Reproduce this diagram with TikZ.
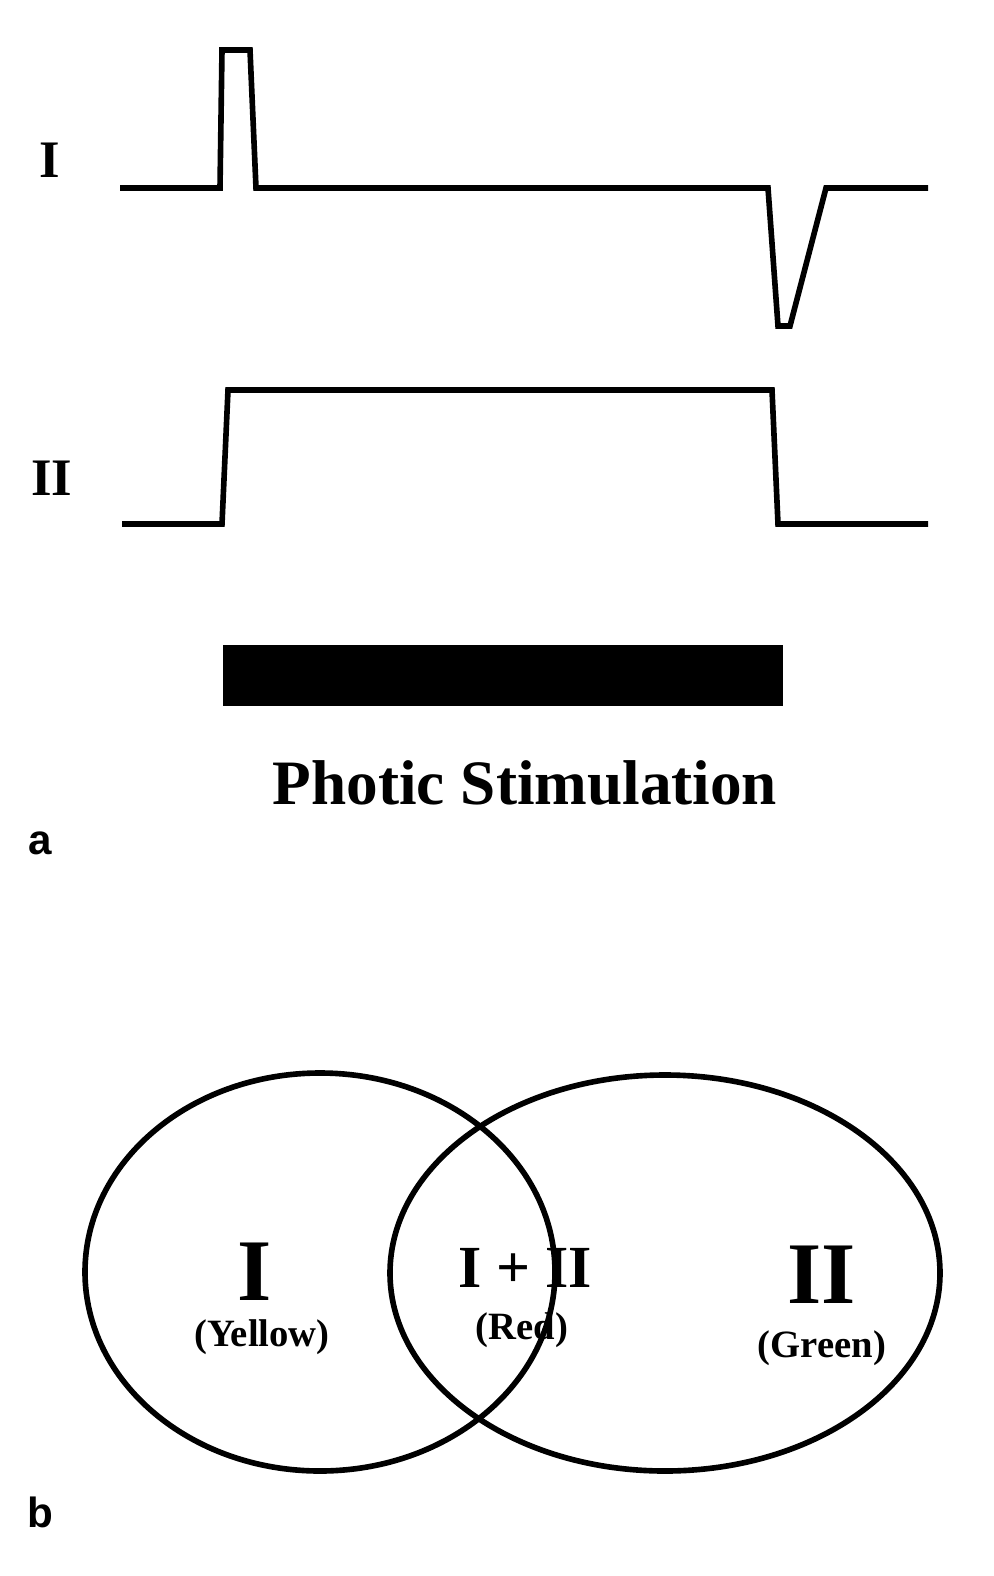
\documentclass[tikz,border=0pt]{standalone}
\usepackage{fontspec}
\setmainfont{Liberation Serif}
\setsansfont{Liberation Sans}
\usetikzlibrary{positioning}
\begin{document}
\begin{tikzpicture}[x=0.02cm, y=-0.02cm,
        wave/.style={line width=3.2pt, line join=miter},
        lbl/.style={font=\bfseries\fontsize{30}{32}\selectfont},
        tag/.style={font=\sffamily\bfseries\fontsize{24}{26}\selectfont},
        sub/.style={font=\bfseries\fontsize{22}{24}\selectfont}
    ]
        \useasboundingbox (0,0) rectangle (994,1576);
        % Traces
        \node[lbl] (lI) at (50,160) {I};
        \node[lbl] (lII) at (52,478) {II};
        \draw[wave] (120,188) -- (220,188) -- (222,50) -- (250,50) -- (256,188)
            -- (768,188) -- (778,326) -- (790,326) -- (826,188) -- (928,188);
        \draw[wave] (122,524) -- (222,524) -- (228,390) -- (772,390) -- (778,524) -- (928,524);

        % Stimulus
        \fill (223,645) rectangle (783,706);
        \node[font=\bfseries\fontsize{36}{38}\selectfont] (stim) at (525,783) {Photic Stimulation};
        \node[tag] (a) at (40,843) {a};

        % Overlap diagram
        \draw[wave] (320,1272) ellipse [x radius=235, y radius=199];
        \draw[wave] (665,1273) ellipse [x radius=275, y radius=198];
        \node[font=\bfseries\fontsize{50}{52}\selectfont] (one) at (255,1272) {I};
        \node[sub] (yel) at (262,1337) {(Yellow)};
        \node[font=\bfseries\fontsize{34}{36}\selectfont] (both) at (525,1268) {I + II};
        \node[sub] (red) at (522,1330) {(Red)};
        \node[font=\bfseries\fontsize{50}{52}\selectfont] (two) at (822,1275) {II};
        \node[sub] (grn) at (822,1348) {(Green)};
        \node[tag] (b) at (40,1512) {b};
    \end{tikzpicture}
\end{document}
